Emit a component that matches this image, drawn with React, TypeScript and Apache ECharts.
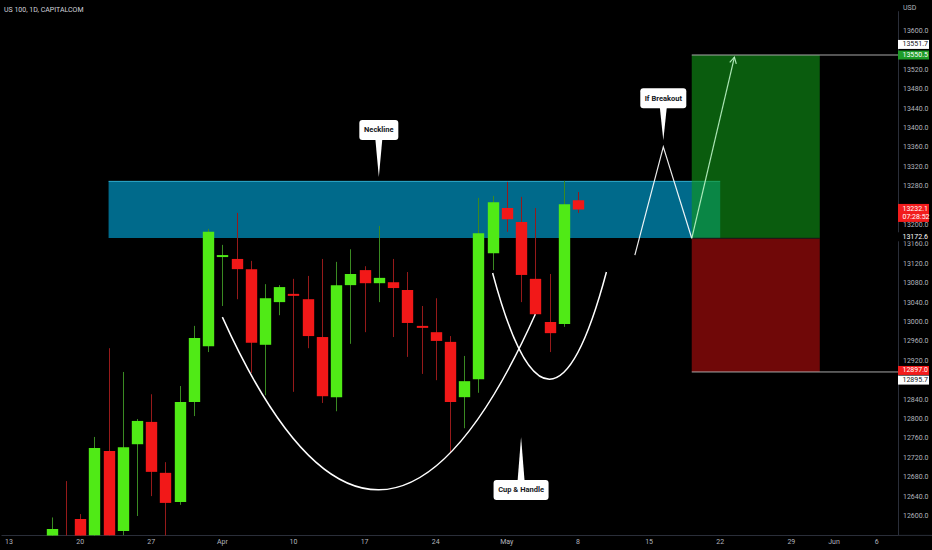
import { useEffect, useRef } from 'react';
import * as echarts from 'echarts';

// trading days on the x axis (incl. the empty future part of the chart)
const dates = [
  '2023-03-13', '2023-03-14', '2023-03-15', '2023-03-16', '2023-03-17',
  '2023-03-20', '2023-03-21', '2023-03-22', '2023-03-23', '2023-03-24',
  '2023-03-27', '2023-03-28', '2023-03-29', '2023-03-30', '2023-03-31',
  '2023-04-03', '2023-04-04', '2023-04-05', '2023-04-06', '2023-04-07',
  '2023-04-10', '2023-04-11', '2023-04-12', '2023-04-13', '2023-04-14',
  '2023-04-17', '2023-04-18', '2023-04-19', '2023-04-20', '2023-04-21',
  '2023-04-24', '2023-04-25', '2023-04-26', '2023-04-27', '2023-04-28',
  '2023-05-01', '2023-05-02', '2023-05-03', '2023-05-04', '2023-05-05',
  '2023-05-08', '2023-05-09', '2023-05-10', '2023-05-11', '2023-05-12',
  '2023-05-15', '2023-05-16', '2023-05-17', '2023-05-18', '2023-05-19',
  '2023-05-22', '2023-05-23', '2023-05-24', '2023-05-25', '2023-05-26',
  '2023-05-29', '2023-05-30', '2023-05-31', '2023-06-01', '2023-06-02',
  '2023-06-05', '2023-06-06', '2023-06-07',
];

const tickLabels: Record<string, string> = {
  '2023-03-13': '13', '2023-03-20': '20', '2023-03-27': '27', '2023-04-03': 'Apr',
  '2023-04-10': '10', '2023-04-17': '17', '2023-04-24': '24', '2023-05-01': 'May',
  '2023-05-08': '8', '2023-05-15': '15', '2023-05-22': '22', '2023-05-29': '29',
  '2023-06-01': 'Jun', '2023-06-06': '6',
};

// price levels whose scale label sits under a tag
const coveredLevels = [13560, 13240, 12880];

// daily candles, Mar 16 .. May 8
const candleStart = '2023-03-16';
const opens = [
  12530, 12545, 12594, 12560, 12734, 12569, 12748, 12794, 12689, 12629,
  12835, 12950, 13134, 13130, 13109, 12953, 13041, 13058, 13047, 12969,
  12845, 13076, 13107, 13080, 13082, 13066, 12992, 12979, 12959, 12845,
  12882, 13142, 13235, 13206, 13089, 13000, 12996, 13251,
];
const closes = [
  12573, 12470, 12555, 12740, 12560, 12742, 12796, 12691, 12627, 12835,
  12967, 13186, 13138, 13109, 12957, 13049, 13072, 13054, 12971, 12847,
  13076, 13099, 13080, 13091, 13070, 12998, 12988, 12961, 12835, 12878,
  13183, 13247, 13212, 13097, 13016, 12977, 13243, 13232.1,
];
const lows = [
  12500, 12440, 12530, 12550, 12550, 12560, 12600, 12641, 12555, 12623,
  12806, 12938, 13033, 13047, 12895, 12849, 13014, 12856, 12946, 12833,
  12816, 12955, 12979, 13041, 12969, 12928, 12893, 12880, 12730, 12781,
  12854, 13107, 13186, 13041, 13014, 12938, 12990, 13225,
];
const highs = [
  12597, 12672, 12604, 12763, 12946, 12897, 12800, 12851, 12711, 12868,
  12992, 13192, 13159, 13225, 13126, 13078, 13076, 13089, 13095, 13130,
  13124, 13150, 13115, 13198, 13130, 13103, 13033, 13049, 12971, 12930,
  13256, 13260, 13289, 13258, 13235, 13099, 13291, 13268,
];

// resistance zone
const zoneDates = ['2023-03-22', '2023-05-22'];
const zonePrices = [13173, 13290];

// long position tool
const positionDates = ['2023-05-18', '2023-05-31'];
const entryPrice = 13172.6;
const targetPrice = 13550.5;
const stopPrice = 12897.0;

// cup and handle curves: start, control, end
const cupDates = ['2023-04-03', '2023-04-18', '2023-05-03'];
const cupPrices = [13010, 12295, 13016];
const handleDates = ['2023-04-28', '2023-05-04', '2023-05-10'];
const handlePrices = [13101, 12662, 13103];

// breakout path and projection arrow
const pathDates = ['2023-05-12', '2023-05-16', '2023-05-18'];
const pathPrices = [13138, 13361, 13172.6];
const arrowDates = ['2023-05-18', '2023-05-23'];
const arrowPrices = [13172.6, 13546];

// callouts (tip anchors)
const calloutTexts = ['Neckline', 'If Breakout', 'Cup & Handle'];
const calloutDates = ['2023-04-18', '2023-05-16', '2023-05-02'];
const calloutPrices = [13299, 13375, 12763];

// price scale tags
const priceTags = [13551.7, 13550.5, 13232.1, 13172.6, 12897.0, 12895.7];
const countdown = '07:28:52';

const UP = '#50ea16';
const DOWN = '#f21818';
const WICK_UP = '#3a8a22';
const WICK_DOWN = '#961a1a';
const FONT = 'Roboto';

const calloutLayout = [
  { w: 39, gap: 37, below: false },
  { w: 46, gap: 32, below: false },
  { w: 55, gap: 43, below: true },
];

const tagStyles = [
  { bg: '#ffffff', fg: '#131722', dy: -10, sub: false },
  { bg: '#1e9c28', fg: '#ffffff', dy: 0, sub: false },
  { bg: '#f21c1c', fg: '#ffffff', dy: 0, sub: true },
  { bg: '#000000', fg: '#ffffff', dy: -1.5, sub: false },
  { bg: '#f21c1c', fg: '#ffffff', dy: -1.5, sub: false },
  { bg: '#ffffff', fg: '#131722', dy: 7.5, sub: false },
];

const ix = (d: string) => dates.indexOf(d);

function single(z: number, renderItem: any) {
  return {
    type: 'custom',
    z,
    clip: false,
    silent: true,
    data: [[0, 13000]],
    encode: { x: 0, y: 1 },
    renderItem,
  };
}

export default function App() {
  const ref = useRef<HTMLDivElement>(null);

  useEffect(() => {
    if (!ref.current) return;
    const chart = echarts.init(ref.current, undefined, { renderer: 'svg' });

    const s0 = ix(candleStart);
    const candleData = opens.map((o, k) => [s0 + k, o, closes[k], lows[k], highs[k]]);

    chart.setOption({
      animation: false,
      backgroundColor: '#000000',
      grid: { left: 1.9, right: 34, top: 11.6, bottom: 14.6 },
      xAxis: {
        type: 'category',
        data: dates,
        boundaryGap: true,
        axisLine: { lineStyle: { color: '#2a2e39' } },
        axisTick: { show: false },
        splitLine: { show: false },
        axisLabel: {
          interval: 0,
          margin: 3,
          color: '#b2b5be',
          fontSize: 7,
          fontFamily: FONT,
          formatter: (v: string) => tickLabels[v] ?? '',
        },
      },
      yAxis: {
        type: 'value',
        position: 'right',
        min: 12560,
        max: 13640,
        interval: 40,
        axisLine: { show: true, lineStyle: { color: '#2a2e39' } },
        axisTick: { show: false },
        splitLine: { show: false },
        axisLabel: {
          margin: 5,
          color: '#b2b5be',
          fontSize: 7,
          fontFamily: FONT,
          formatter: (v: number) =>
            v < 12600 || v > 13600 || coveredLevels.includes(v) ? '' : v.toFixed(1),
        },
      },
      graphic: [
        { type: 'text', left: 4, top: 6, style: { text: 'US 100, 1D, CAPITALCOM', fill: '#d1d4dc', fontSize: 7, fontFamily: FONT } },
        { type: 'text', left: 903, top: 4, style: { text: 'USD', fill: '#b2b5be', fontSize: 7, fontFamily: FONT } },
        { type: 'line', shape: { x1: 898, y1: 535.4, x2: 932, y2: 535.4 }, style: { stroke: '#2a2e39', lineWidth: 1 } },
      ],
      series: [
        // resistance zone
        single(1, (params: any, api: any) => {
          const a = api.coord([ix(zoneDates[0]), zonePrices[1]]);
          const b = api.coord([ix(zoneDates[1]), zonePrices[0]]);
          return {
            type: 'group',
            children: [
              { type: 'rect', shape: { x: a[0], y: a[1], width: b[0] - a[0], height: b[1] - a[1] }, style: { fill: 'rgba(0,166,218,0.64)' } },
              { type: 'line', shape: { x1: a[0], y1: a[1], x2: b[0], y2: a[1] }, style: { stroke: 'rgba(60,200,235,0.8)', lineWidth: 1 } },
            ],
          };
        }),
        // long position: target and stop boxes
        single(2, (params: any, api: any) => {
          const x1 = api.coord([ix(positionDates[0]), entryPrice])[0];
          const x2 = api.coord([ix(positionDates[1]), entryPrice])[0];
          const yT = api.coord([0, targetPrice])[1];
          const yE = api.coord([0, entryPrice])[1];
          const yS = api.coord([0, stopPrice])[1];
          const xr = params.coordSys.x + params.coordSys.width;
          return {
            type: 'group',
            children: [
              { type: 'rect', shape: { x: x1, y: yT, width: x2 - x1, height: yE - yT }, style: { fill: 'rgba(17,153,23,0.6)' } },
              { type: 'rect', shape: { x: x1, y: yE, width: x2 - x1, height: yS - yE }, style: { fill: '#700808' } },
              { type: 'line', shape: { x1, y1: yE, x2, y2: yE }, style: { stroke: '#1a1a1a', lineWidth: 1 } },
              { type: 'line', shape: { x1, y1: yT, x2: xr, y2: yT }, style: { stroke: '#a8a8a8', lineWidth: 1 } },
              { type: 'line', shape: { x1, y1: yS, x2: xr, y2: yS }, style: { stroke: '#a8a8a8', lineWidth: 1 } },
            ],
          };
        }),
        // candles
        {
          type: 'custom',
          z: 3,
          clip: true,
          silent: true,
          data: candleData,
          encode: { x: 0, y: [1, 2, 3, 4] },
          renderItem: (params: any, api: any) => {
            const i = api.value(0);
            const o = api.value(1);
            const c = api.value(2);
            const [x, yO] = api.coord([i, o]);
            const yC = api.coord([i, c])[1];
            const yL = api.coord([i, api.value(3)])[1];
            const yH = api.coord([i, api.value(4)])[1];
            const w = api.size([1, 0])[0] * 0.8;
            const up = c >= o;
            const cx = Math.round(x) + 0.5;
            return {
              type: 'group',
              children: [
                { type: 'line', shape: { x1: cx, y1: yH, x2: cx, y2: yL }, style: { stroke: up ? WICK_UP : WICK_DOWN, lineWidth: 1 } },
                {
                  type: 'rect',
                  shape: { x: cx - w / 2, y: Math.min(yO, yC), width: w, height: Math.max(Math.abs(yO - yC), 2) },
                  style: { fill: up ? UP : DOWN },
                },
              ],
            };
          },
        },
        // cup & handle curves, breakout path, arrow
        single(4, (params: any, api: any) => {
          const pt = (d: string, p: number) => api.coord([ix(d), p]);
          const curve = (ds: string[], ps: number[]) => {
            const a = pt(ds[0], ps[0]);
            const c = pt(ds[1], ps[1]);
            const b = pt(ds[2], ps[2]);
            return {
              type: 'bezierCurve',
              shape: { x1: a[0], y1: a[1], cpx1: c[0], cpy1: c[1], x2: b[0], y2: b[1] },
              style: { stroke: '#ffffff', lineWidth: 1.5, fill: null },
            };
          };
          const path = pathDates.map((d, k) => pt(d, pathPrices[k]));
          const a0 = pt(arrowDates[0], arrowPrices[0]);
          const a1 = pt(arrowDates[1], arrowPrices[1]);
          const ang = Math.atan2(a1[1] - a0[1], a1[0] - a0[0]);
          const hl = 7;
          const h1 = [a1[0] - hl * Math.cos(ang - 0.5), a1[1] - hl * Math.sin(ang - 0.5)];
          const h2 = [a1[0] - hl * Math.cos(ang + 0.5), a1[1] - hl * Math.sin(ang + 0.5)];
          const arrowStyle = { stroke: 'rgba(190,245,200,0.9)', lineWidth: 1.2, fill: null };
          return {
            type: 'group',
            children: [
              curve(cupDates, cupPrices),
              curve(handleDates, handlePrices),
              { type: 'polyline', shape: { points: path }, style: { stroke: 'rgba(255,255,255,0.92)', lineWidth: 1.2, fill: null } },
              { type: 'line', shape: { x1: a0[0], y1: a0[1], x2: a1[0], y2: a1[1] }, style: arrowStyle },
              { type: 'polyline', shape: { points: [h1, a1, h2] }, style: arrowStyle },
            ],
          };
        }),
        // callouts
        single(5, (params: any, api: any) => {
          const children: any[] = [];
          calloutTexts.forEach((t, k) => {
            const lay = calloutLayout[k];
            const tip = api.coord([ix(calloutDates[k]), calloutPrices[k]]);
            const h = 20;
            const top = lay.below ? tip[1] + lay.gap : tip[1] - lay.gap - h;
            const baseY = lay.below ? top + 1 : top + h - 1;
            children.push({
              type: 'polygon',
              shape: { points: [[tip[0] - 3.5, baseY], [tip[0] + 3.5, baseY], [tip[0], tip[1]]] },
              style: { fill: '#ffffff' },
            });
            children.push({
              type: 'rect',
              shape: { x: tip[0] - lay.w / 2, y: top, width: lay.w, height: h, r: 3 },
              style: { fill: '#ffffff' },
            });
            children.push({
              type: 'text',
              style: {
                text: t, x: tip[0], y: top + h / 2, align: 'center', verticalAlign: 'middle',
                fill: '#131722', fontSize: 7.5, fontWeight: 'bold', fontFamily: FONT,
              },
            });
          });
          return { type: 'group', children };
        }),
        // price scale tags
        single(6, (params: any, api: any) => {
          const x0 = params.coordSys.x + params.coordSys.width;
          const children: any[] = [];
          priceTags.forEach((p, k) => {
            const st = tagStyles[k];
            const y = api.coord([0, p])[1] + st.dy;
            const h = st.sub ? 18 : 9;
            const top = st.sub ? y - 5.5 : y - h / 2;
            children.push({ type: 'rect', shape: { x: x0, y: top, width: 31, height: h }, style: { fill: st.bg } });
            children.push({
              type: 'text',
              style: { text: p.toFixed(1), x: x0 + 4.5, y: st.sub ? top + 4.8 : y, verticalAlign: 'middle', fill: st.fg, fontSize: 7, fontFamily: FONT },
            });
            if (st.sub) {
              children.push({
                type: 'text',
                style: { text: countdown, x: x0 + 4.5, y: top + 13, verticalAlign: 'middle', fill: st.fg, fontSize: 7, fontFamily: FONT },
              });
            }
          });
          return { type: 'group', children };
        }),
      ],
    });

    return () => chart.dispose();
  }, []);

  return <div ref={ref} style={{ position: 'fixed', left: 0, top: 0, width: 932, height: 550, background: '#000' }} />;
}
